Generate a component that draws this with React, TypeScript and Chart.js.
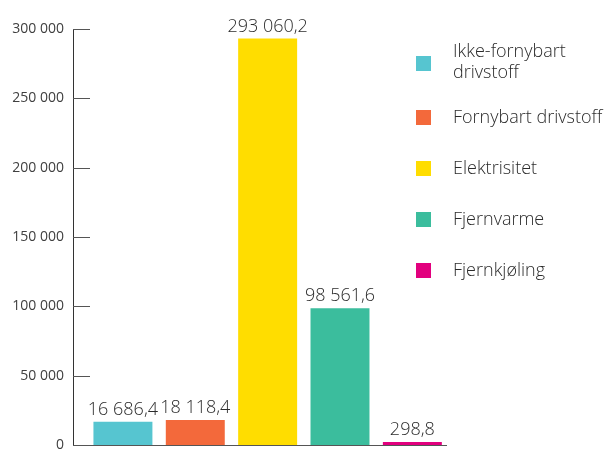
import React, { useEffect, useRef } from "react";
import { Chart, registerables } from "chart.js";

Chart.register(...registerables);

const categories: string[] = [
  "Ikke-fornybart drivstoff",
  "Fornybart drivstoff",
  "Elektrisitet",
  "Fjernvarme",
  "Fjernkjøling",
];
const values: number[] = [16686.4, 18118.4, 293060.2, 98561.6, 298.8];
const colors: string[] = ["#56C5D0", "#F3693B", "#FFDD00", "#3BBD9D", "#E2007E"];
const yTickValues: number[] = [0, 50000, 100000, 150000, 200000, 250000, 300000];

const FONT = "'Open Sans', 'Noto Sans', sans-serif";

const groupThousands = (s: string) => s.replace(/\B(?=(\d{3})+(?!\d))/g, " ");
const formatTick = (v: number) => groupThousands(String(Math.round(v)));
const formatValue = (v: number) => {
  const [i, d] = v.toFixed(1).split(".");
  return groupThousands(i) + "," + d;
};

const wrap = (ctx: CanvasRenderingContext2D, text: string, maxW: number) => {
  const words = text.split(" ");
  const lines: string[] = [];
  let cur = "";
  for (const w of words) {
    const t = cur ? cur + " " + w : w;
    if (cur && ctx.measureText(t).width > maxW) {
      lines.push(cur);
      cur = w;
    } else cur = t;
  }
  if (cur) lines.push(cur);
  return lines;
};

const extrasPlugin = {
  id: "extras",
  afterDraw(chart: any) {
    const ctx: CanvasRenderingContext2D = chart.ctx;
    const y = chart.scales.y;
    const area = chart.chartArea;
    ctx.save();
    // inward tick marks
    ctx.strokeStyle = "#555555";
    ctx.lineWidth = 1;
    y.ticks.forEach((t: any) => {
      const py = Math.round(y.getPixelForValue(t.value)) + 0.5;
      ctx.beginPath();
      ctx.moveTo(area.left, py);
      ctx.lineTo(area.left + 17, py);
      ctx.stroke();
    });
    // value labels
    const meta = chart.getDatasetMeta(0);
    ctx.fillStyle = "#2b2b2b";
    ctx.font = `300 18px ${FONT}`;
    ctx.textAlign = "center";
    ctx.textBaseline = "alphabetic";
    meta.data.forEach((bar: any, i: number) => {
      ctx.fillText(formatValue(values[i]), bar.x, bar.y - 7);
    });
    // legend
    ctx.font = `300 18px ${FONT}`;
    ctx.textAlign = "left";
    ctx.textBaseline = "middle";
    const lineH = 21;
    categories.forEach((c, i) => {
      const lines = wrap(ctx, c, 150);
      const cy = i === 0 ? 62 : 117.5 + 51 * (i - 1);
      const sqY = i === 0 ? 56 : cy - 7.5;
      ctx.fillStyle = colors[i];
      ctx.fillRect(416, Math.round(sqY), 15, 15);
      ctx.fillStyle = "#2b2b2b";
      const startY = cy - ((lines.length - 1) * lineH) / 2;
      lines.forEach((l, k) => ctx.fillText(l, 453, startY + k * lineH));
    });
    ctx.restore();
  },
};

export default function App() {
  const ref = useRef<HTMLCanvasElement>(null);
  useEffect(() => {
    if (!ref.current) return;
    const chart = new Chart(ref.current, {
      type: "bar",
      data: {
        datasets: [
          {
            data: values.map((v, i) => ({ x: i, y: v })) as any,
            backgroundColor: colors,
            barPercentage: 0.815,
            categoryPercentage: 1,
            minBarLength: 3,
            borderWidth: 0,
          },
        ],
      },
      options: {
        animation: false,
        responsive: true,
        maintainAspectRatio: false,
        layout: { padding: { top: 29, right: 162, bottom: 4, left: 0 } },
        plugins: { legend: { display: false }, tooltip: { enabled: false } },
        scales: {
          x: {
            type: "linear",
            min: -0.69,
            max: 4.465,
            offset: false,
            ticks: { display: false },
            grid: { display: false },
            border: { display: true, color: "#555555", width: 1 },
            afterFit: (s: any) => {
              s.height = 0;
              s.paddingLeft = 0;
              s.paddingRight = 0;
            },
          },
          y: {
            min: 0,
            max: 300000,
            afterBuildTicks: (s: any) => {
              s.ticks = yTickValues.map((v) => ({ value: v }));
            },
            ticks: {
              padding: 9,
              color: "#404040",
              font: { family: FONT, size: 14 },
              callback: (v: any) => formatTick(Number(v)),
            },
            grid: { display: false, drawTicks: false },
            border: { display: true, color: "#333333", width: 1 },
            afterFit: (s: any) => {
              s.width = 73;
              s.paddingTop = 0;
              s.paddingBottom = 0;
            },
          },
        },
      },
      plugins: [extrasPlugin],
    });
    return () => chart.destroy();
  }, []);
  return (
    <div style={{ position: "fixed", left: 0, top: 0, width: 608, height: 449, background: "#fff" }}>
      <canvas ref={ref} />
    </div>
  );
}
